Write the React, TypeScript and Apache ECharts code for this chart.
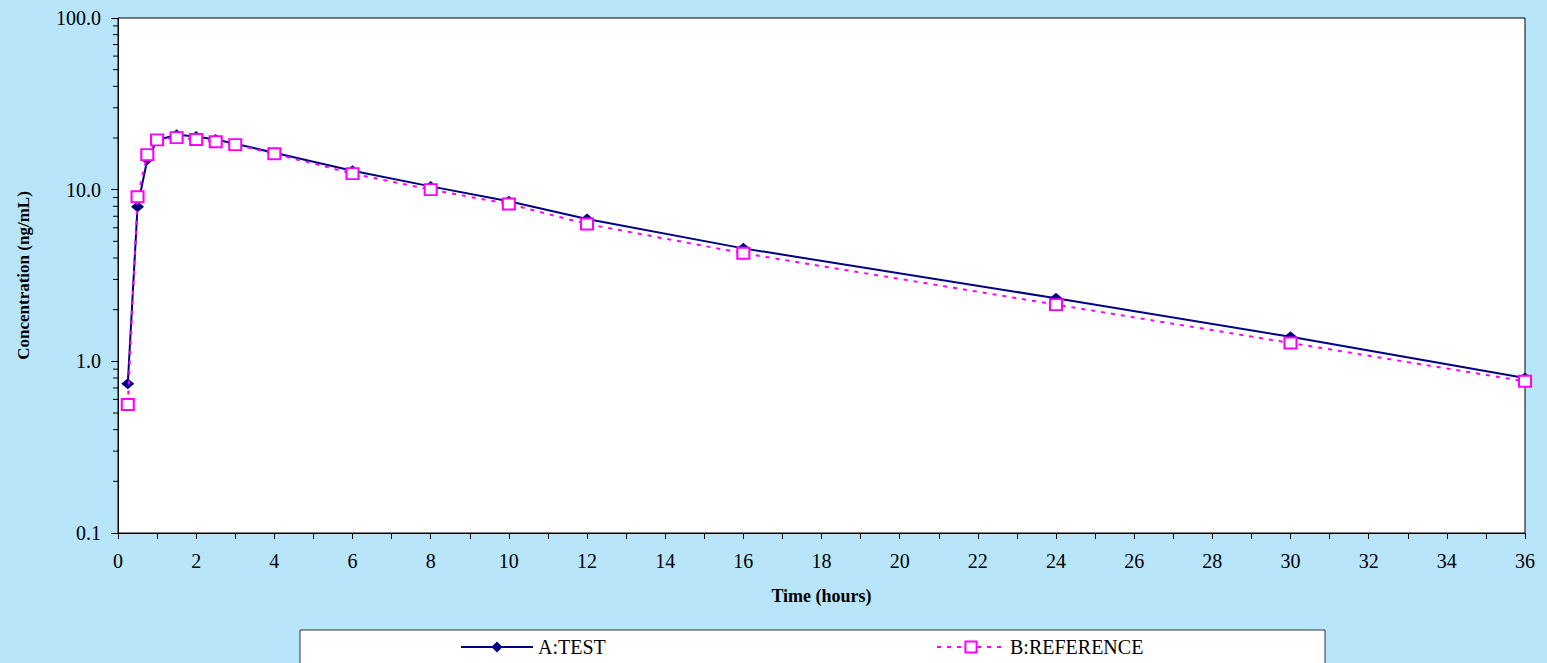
import React, { useEffect, useRef } from "react";
import * as echarts from "echarts";

const times = [0.25, 0.5, 0.75, 1, 1.5, 2, 2.5, 3, 4, 6, 8, 10, 12, 16, 24, 30, 36];
const testValues = [0.74, 7.96, 15.0, 19.4, 20.9, 20.4, 19.6, 18.5, 16.4, 12.9, 10.45, 8.55, 6.75, 4.55, 2.33, 1.39, 0.8];
const refValues = [0.56, 9.1, 16.0, 19.5, 20.1, 19.6, 19.0, 18.3, 16.2, 12.4, 10.0, 8.25, 6.31, 4.26, 2.14, 1.28, 0.765];
const yMinorTicks = [0.2, 0.3, 0.4, 0.5, 0.6, 0.7, 0.8, 0.9, 2, 3, 4, 5, 6, 7, 8, 9, 20, 30, 40, 50, 60, 70, 80, 90];
const seriesNames = ["A:TEST", "B:REFERENCE"];
const xAxisTitle = "Time (hours)";
const yAxisTitle = "Concentration (ng/mL)";

const FONT = "Liberation Serif";

export default function App() {
  const ref = useRef<HTMLDivElement>(null);
  useEffect(() => {
    if (!ref.current) return;
    const chart = echarts.init(ref.current, undefined, { renderer: "svg" });
    const legendText = {
      fontFamily: FONT,
      fontSize: 20,
      color: "#000",
      rich: { s: { fontFamily: FONT, fontSize: 20, color: "#000" } },
    };
    const option: any = {
      animation: false,
      backgroundColor: "#B9E5FB",
      textStyle: { fontFamily: FONT },
      grid: {
        left: 118,
        right: 22,
        top: 18,
        bottom: 130,
        show: true,
        backgroundColor: "#ffffff",
        borderColor: "#000000",
        borderWidth: 1,
      },
      graphic: [
        {
          type: "rect",
          z: 0,
          shape: { x: 300, y: 630, width: 1025, height: 40 },
          style: { fill: "#ffffff", stroke: "#333333", lineWidth: 1 },
        },
      ],
      legend: [
        {
          data: [seriesNames[0]],
          left: 460,
          top: 637,
          z: 10,
          padding: 0,
          itemWidth: 72,
          itemHeight: 14,
          itemGap: 6,
          formatter: (n: string) => "{s|" + n + "}",
          textStyle: legendText,
        },
        {
          data: [seriesNames[1]],
          left: 936,
          top: 637,
          z: 10,
          padding: 0,
          itemWidth: 68,
          itemHeight: 14,
          itemGap: 6,
          formatter: (n: string) => "{s|" + n + "}",
          textStyle: legendText,
        },
      ],
      xAxis: {
        type: "value",
        min: 0,
        max: 36,
        interval: 2,
        name: xAxisTitle,
        nameLocation: "middle",
        nameGap: 54,
        nameTextStyle: { fontFamily: FONT, fontSize: 18, fontWeight: "bold", color: "#000" },
        axisLine: { show: true, lineStyle: { color: "#000", width: 1 } },
        axisTick: { show: true, length: 6, lineStyle: { color: "#000" } },
        minorTick: { show: true, splitNumber: 2, length: 6, lineStyle: { color: "#000" } },
        splitLine: { show: false },
        axisLabel: { fontFamily: FONT, fontSize: 20, color: "#000", margin: 18 },
      },
      yAxis: {
        type: "log",
        logBase: 10,
        min: 0.1,
        max: 100,
        name: yAxisTitle,
        nameLocation: "middle",
        nameGap: 86,
        nameTextStyle: { fontFamily: FONT, fontSize: 17, fontWeight: "bold", color: "#000" },
        axisLine: { show: true, lineStyle: { color: "#000", width: 1 } },
        axisTick: { show: true, length: 7, lineStyle: { color: "#000" } },
        splitLine: { show: false },
        axisLabel: {
          fontFamily: FONT,
          fontSize: 20,
          color: "#000",
          margin: 17,
          formatter: (v: number) => Number(v).toFixed(1),
        },
      },
      series: [
        {
          name: seriesNames[0],
          type: "line",
          data: times.map((t, i) => [t, testValues[i]]),
          symbol: "diamond",
          symbolSize: [13, 11],
          color: "#000080",
          itemStyle: { color: "#000080" },
          lineStyle: { color: "#000080", width: 2 },
          z: 3,
        },
        {
          name: seriesNames[1],
          type: "line",
          data: times.map((t, i) => [t, refValues[i]]),
          symbol: "emptyRect",
          symbolSize: [12, 11],
          color: "#FF00FF",
          itemStyle: { color: "#FF00FF", borderWidth: 2 },
          lineStyle: { color: "#FF00FF", width: 2, type: [4, 6] },
          z: 4,
        },
        {
          name: "minorTicks",
          type: "custom",
          silent: true,
          clip: false,
          data: yMinorTicks.map((v) => [0, v]),
          renderItem: (params: any, api: any) => {
            const p = api.coord([0, api.value(1)]);
            return {
              type: "line",
              shape: { x1: p[0] - 5, y1: p[1], x2: p[0], y2: p[1] },
              style: { stroke: "#000", lineWidth: 1 },
            };
          },
          z: 5,
        },
      ],
    };
    chart.setOption(option);
    return () => chart.dispose();
  }, []);
  return (
    <div
      ref={ref}
      style={{ position: "fixed", left: 0, top: 0, width: 1547, height: 663 }}
    />
  );
}
